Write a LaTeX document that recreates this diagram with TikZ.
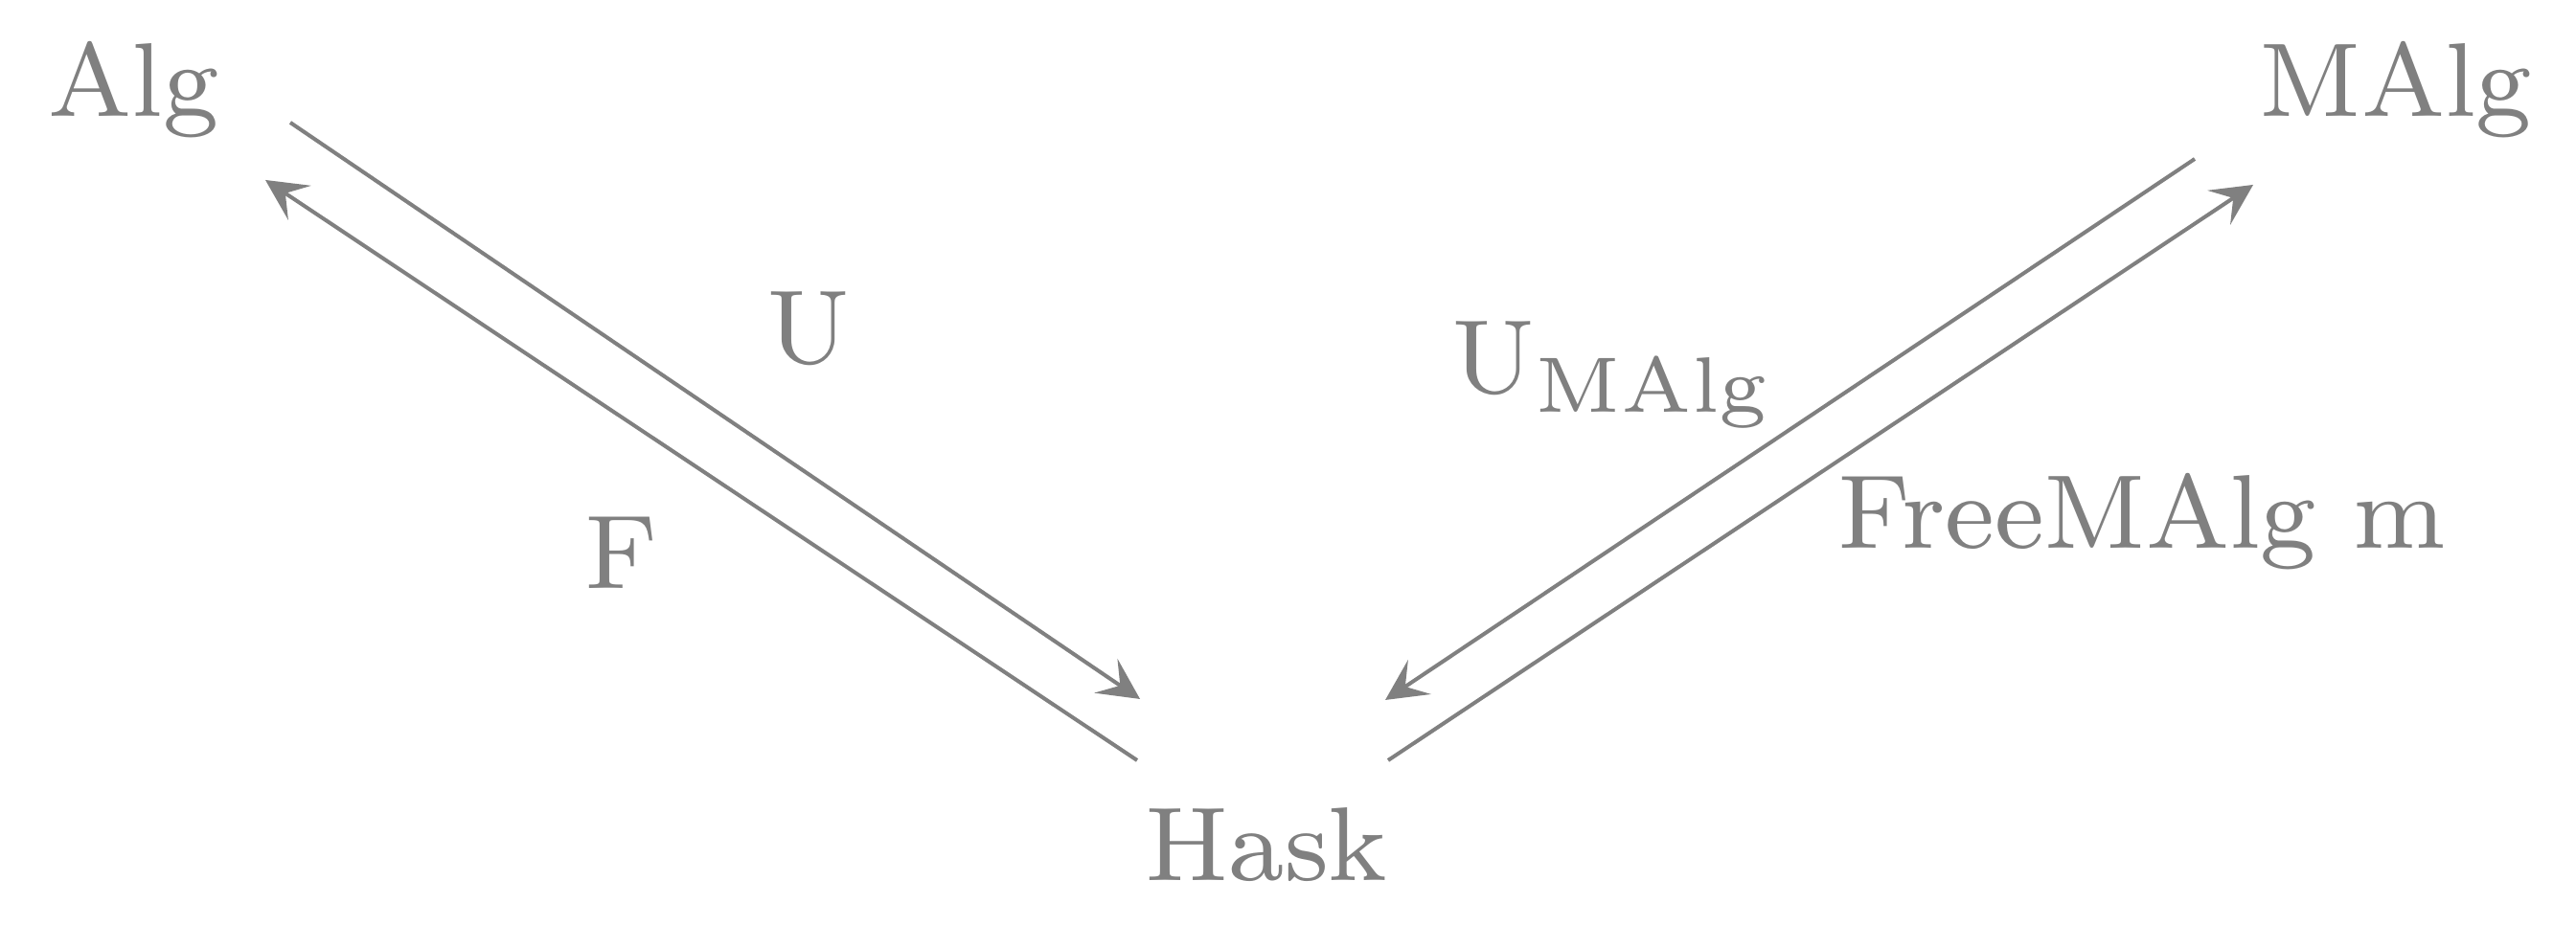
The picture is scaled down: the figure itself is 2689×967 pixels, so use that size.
\documentclass[tikz,border=0pt]{standalone}
\usetikzlibrary{arrows.meta}
\begin{document}
\begin{tikzpicture}[x=0.1pt,y=-0.1pt,
  lbl/.style={inner sep=0pt,anchor=base west,text=gray,scale=1.369,transform shape,font=\fontsize{8}{9.5}\selectfont},
  arr/.style={draw=gray,line width=0.4pt,-{Stealth[length=4.3pt,width=4.3pt,inset=1.8pt]}}]
\useasboundingbox (0,0) rectangle (2689,967);
% objects
\node[lbl] (alg)  at (48,122)   {Alg};
\node[lbl] (malg) at (2356,122) {MAlg};
\node[lbl] (hask) at (1193,920) {Hask};
% arrow labels
\node[lbl] (lu)    at (798,380)  {U};
\node[lbl] (lf)    at (608,615)  {F};
\node[lbl] (lum)   at (1513,411) {$\mathrm{U}_{\mathrm{MAlg}}$};
\node[lbl] (lfree) at (1916,573) {FreeMAlg m};
% connector ends
\coordinate (uS) at (303,128);
\coordinate (uE) at (1190,730);
\coordinate (fS) at (1187,794);
\coordinate (fE) at (277,188);
\coordinate (umS) at (2291,166);
\coordinate (umE) at (1446,731);
\coordinate (frS) at (1449,794);
\coordinate (frE) at (2352,193);
% connectors
\draw[arr] (uS) -- (uE);
\draw[arr] (fS) -- (fE);
\draw[arr] (umS) -- (umE);
\draw[arr] (frS) -- (frE);
\end{tikzpicture}
\end{document}
